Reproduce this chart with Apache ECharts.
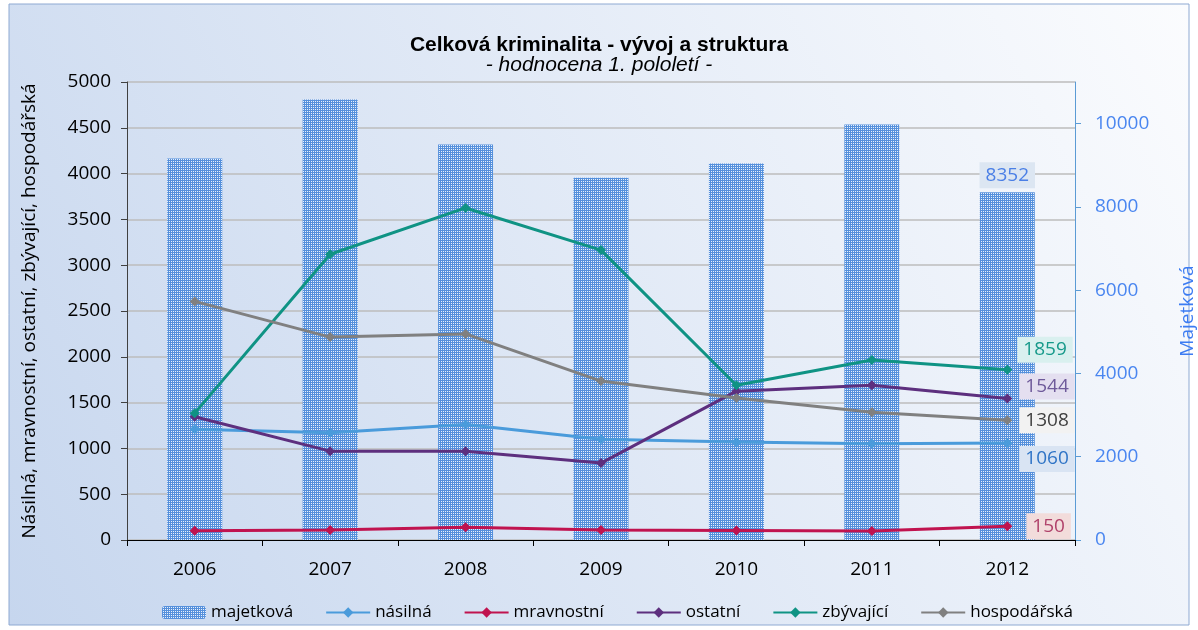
<!DOCTYPE html>
<html>
<head>
<meta charset="utf-8">
<script src="https://cdn.jsdelivr.net/npm/echarts@6/dist/echarts.min.js"></script>
<style>
  html, body { margin: 0; padding: 0; background: #fff; }
  #chart { width: 1198px; height: 630px; }
</style>
</head>
<body>
<div id="chart"></div>
<script>
var years = ['2006', '2007', '2008', '2009', '2010', '2011', '2012']
var majetkova = [9160, 10580, 9500, 8700, 9040, 9980, 8352]
var nasilna = [1210, 1170, 1260, 1100, 1070, 1050, 1060]
var mravnostni = [100, 110, 140, 110, 105, 98, 150]
var ostatni = [1345, 970, 970, 840, 1625, 1690, 1544]
var zbyvajici = [1385, 3120, 3625, 3165, 1690, 1965, 1859]
var hospodarska = [2605, 2215, 2250, 1735, 1550, 1395, 1308]

var font = 'Open Sans'
var last = years.length - 1

// dotted fill for the bars
function dotPattern() {
  var c = document.createElement('canvas')
  c.width = 2
  c.height = 2
  var ctx = c.getContext('2d')
  ctx.fillStyle = '#5590dc'
  ctx.fillRect(0, 0, 2, 2)
  ctx.fillStyle = '#e8f0fb'
  ctx.fillRect(1, 1, 1, 1)
  return c
}

// put a boxed label only on the last point
function withLastLabel(data, label) {
  return data.map(function (v, i) {
    return i === last ? { value: v, label: label } : v
  })
}

function boxLabel(color, bg, pos, distance, offset) {
  return {
    show: true,
    position: pos,
    distance: distance,
    offset: offset,
    fontFamily: font,
    fontSize: 19,
    color: color,
    backgroundColor: bg,
    padding: [4, 6, 3, 6]
  }
}

function lineSeries(name, data, color, label) {
  return {
    name: name,
    type: 'line',
    data: withLastLabel(data, label),
    symbol: 'diamond',
    symbolSize: 10,
    lineStyle: { color: color, width: 3 },
    itemStyle: { color: color },
    z: 5
  }
}

var chart = echarts.init(document.getElementById('chart'))

chart.setOption({
  animation: false,
  textStyle: { fontFamily: font },
  graphic: [{
    type: 'rect',
    shape: { x: 9, y: 4, width: 1180, height: 621 },
    style: {
      fill: new echarts.graphic.LinearGradient(0, 1, 1, 0, [
        { offset: 0, color: '#c6d6ee' },
        { offset: 1, color: '#fbfcfe' }
      ]),
      stroke: '#8ea9d2',
      lineWidth: 1
    },
    z: -10
  }],
  title: {
    text: 'Celková kriminalita - vývoj a struktura',
    subtext: '- hodnocena 1. pololetí -',
    left: 'center',
    top: 29,
    itemGap: -2,
    textStyle: { fontFamily: 'Liberation Sans', fontSize: 21, lineHeight: 22, fontWeight: 'bold', color: '#000' },
    subtextStyle: { fontFamily: 'Liberation Sans', fontSize: 21, lineHeight: 22, fontStyle: 'italic', color: '#000' }
  },
  legend: {
    top: 599,
    left: 157,
    itemGap: 32,
    itemWidth: 44,
    itemHeight: 13,
    textStyle: { fontFamily: font, fontSize: 17, color: '#000' },
    data: ['majetková', 'násilná', 'mravnostní', 'ostatní', 'zbývající', 'hospodářská']
  },
  grid: { left: 127, right: 123, top: 82, bottom: 90, outerBoundsMode: 'none', containLabel: false },
  xAxis: {
    type: 'category',
    data: years,
    axisLine: { lineStyle: { color: '#000', width: 1 } },
    axisTick: { show: true, length: 6, lineStyle: { color: '#000' } },
    axisLabel: { fontSize: 19, color: '#000', margin: 20 }
  },
  yAxis: [{
    type: 'value',
    min: 0,
    max: 5000,
    interval: 500,
    name: 'Násilná, mravnostní, ostatní, zbývající, hospodářská',
    nameLocation: 'middle',
    nameGap: 88,
    nameTextStyle: { fontSize: 19, color: '#000' },
    axisLine: { show: true, lineStyle: { color: '#404040' } },
    axisTick: { show: true, length: 6, lineStyle: { color: '#404040' } },
    axisLabel: { fontSize: 19, color: '#000', margin: 16, formatter: function (v) { return v } },
    splitLine: { lineStyle: { color: '#bdbdbd', width: 1.5 } }
  }, {
    type: 'value',
    min: 0,
    max: 11000,
    interval: 2000,
    name: 'Majetková',
    nameLocation: 'middle',
    nameGap: 103,
    nameTextStyle: { fontSize: 19, color: '#3c7cf2' },
    axisLine: { show: true, lineStyle: { color: '#5b9bd5' } },
    axisTick: { show: true, length: 6, lineStyle: { color: '#5b9bd5' } },
    axisLabel: { fontSize: 19, color: '#4a86f0', margin: 20, showMaxLabel: false, formatter: function (v) { return v } },
    splitLine: { show: false }
  }],
  series: [{
    name: 'majetková',
    type: 'bar',
    yAxisIndex: 1,
    data: withLastLabel(majetkova, boxLabel('#4a7fe6', '#dce6f2', 'top', 4, [0, 0])),
    barWidth: 55,
    itemStyle: {
      color: { image: dotPattern(), repeat: 'repeat' }
    },
    z: 1
  },
    lineSeries('násilná', nasilna, '#4a9bdb', boxLabel('#2f74c6', '#d9e4f3', 'right', 7, [0, 16])),
    lineSeries('mravnostní', mravnostni, '#c0134f', boxLabel('#b0426a', '#f2dcdb', 'right', 14, [0, 0])),
    lineSeries('ostatní', ostatni, '#5d2f7e', boxLabel('#6e5a9a', '#e4dff0', 'right', 7, [0, -12])),
    lineSeries('zbývající', zbyvajici, '#0f9384', boxLabel('#16998a', '#d9f0ef', 'right', 5, [0, -20])),
    lineSeries('hospodářská', hospodarska, '#808080', boxLabel('#404040', '#f2f2f2', 'right', 7, [0, 0]))
  ]
})
</script>
</body>
</html>
